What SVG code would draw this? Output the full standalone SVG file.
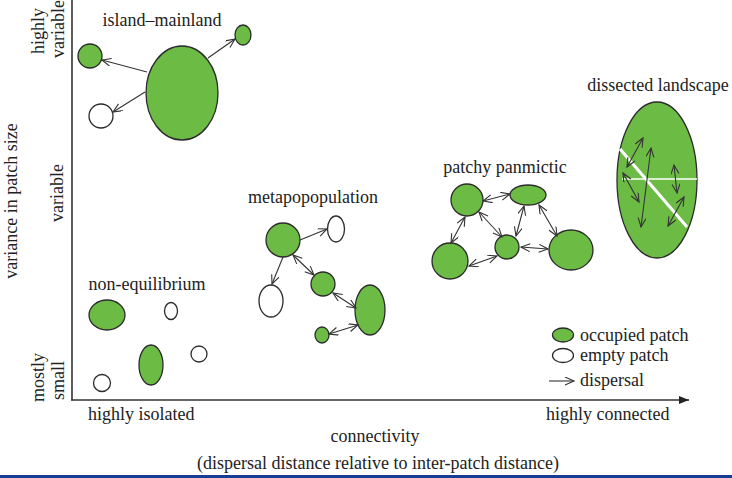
<svg xmlns="http://www.w3.org/2000/svg" width="732" height="478" viewBox="0 0 732 478">
<style>
text{font-family:"Liberation Serif","Times New Roman",serif;font-size:18px;fill:#222}
.occ{fill:#6cbb45;stroke:#2b2b2b;stroke-width:1.3}
.emp{fill:#fff;stroke:#2b2b2b;stroke-width:1.3}
.d{stroke:#333;stroke-width:1.1;fill:none;marker-end:url(#ah)}
.dd{stroke:#333;stroke-width:1.1;fill:none;marker-end:url(#ah);marker-start:url(#ah)}
.ax{stroke:#333;stroke-width:1.6;fill:none}
</style>
<defs>
<marker id="ah" markerUnits="userSpaceOnUse" markerWidth="12" markerHeight="10" refX="10" refY="4" orient="auto-start-reverse">
<path d="M1,0 L10,4 L1,8" fill="none" stroke="#333" stroke-width="1.1"/>
</marker>
<marker id="axh" markerUnits="userSpaceOnUse" markerWidth="12" markerHeight="10" refX="10" refY="4" orient="auto">
<path d="M0,0 L10,4 L0,8 Z" fill="#222"/>
</marker>
</defs>
<rect width="732" height="478" fill="#fff"/>
<rect x="0" y="475" width="732" height="3" fill="#183c94"/>

<g id="axes">
<line class="ax" x1="72" y1="0" x2="72" y2="400.5"/>
<line class="ax" x1="71.2" y1="400" x2="689" y2="400" marker-end="url(#axh)"/>
<text transform="rotate(-90 44 54)" x="44" y="54" font-size="17.5">highly</text>
<text transform="rotate(-90 64 58)" x="64" y="58" font-size="17.5">variable</text>
<text transform="rotate(-90 63 222)" x="63" y="222">variable</text>
<text transform="rotate(-90 44 402)" x="44" y="402">mostly</text>
<text transform="rotate(-90 64 400)" x="64" y="400">small</text>
<text transform="rotate(-90 17 201)" x="17" y="201" text-anchor="middle">variance in patch size</text>
<text x="88" y="420">highly isolated</text>
<text x="546" y="420">highly connected</text>
<text x="375" y="442" text-anchor="middle">connectivity</text>
<text x="378" y="469" text-anchor="middle">(dispersal distance relative to inter-patch distance)</text>
</g>

<g id="island-mainland">
<text x="162" y="26" text-anchor="middle">island–mainland</text>
<ellipse class="occ" cx="182" cy="93" rx="36" ry="47"/>
<circle class="occ" cx="90" cy="56" r="12"/>
<circle class="emp" cx="101" cy="116" r="12"/>
<ellipse class="occ" cx="243" cy="35" rx="8" ry="10"/>
</g>

<g id="metapopulation">
<text x="313" y="203" text-anchor="middle">metapopopulation</text>
<circle class="occ" cx="283" cy="240" r="17"/>
<ellipse class="emp" cx="336" cy="229" rx="8.5" ry="13"/>
<ellipse class="emp" cx="271" cy="301" rx="12" ry="16"/>
<circle class="occ" cx="323" cy="284" r="12"/>
<ellipse class="occ" cx="370" cy="310" rx="15" ry="25"/>
<ellipse class="occ" cx="322" cy="335" rx="7" ry="8"/>
</g>

<g id="patchy-panmictic">
<text x="505" y="173" text-anchor="middle">patchy panmictic</text>
<circle class="occ" cx="467" cy="200" r="16"/>
<ellipse class="occ" cx="528" cy="195" rx="18" ry="10"/>
<circle class="occ" cx="450" cy="261" r="18"/>
<circle class="occ" cx="507" cy="247" r="12"/>
<ellipse class="occ" cx="571" cy="250" rx="22" ry="20"/>
</g>

<g id="dissected-landscape">
<text x="658" y="91" text-anchor="middle">dissected landscape</text>
<ellipse class="occ" cx="657" cy="180" rx="40" ry="78"/>
<line x1="620" y1="149" x2="687" y2="227" stroke="#fff" stroke-width="3"/>
<line x1="622" y1="179" x2="697" y2="179" stroke="#fff" stroke-width="1.5"/>
</g>

<g id="non-equilibrium">
<text x="147" y="290" text-anchor="middle">non-equilibrium</text>
<ellipse class="occ" cx="107" cy="315" rx="18" ry="15"/>
<ellipse class="emp" cx="171" cy="311" rx="6.5" ry="8.5"/>
<ellipse class="occ" cx="151" cy="365" rx="12" ry="20"/>
<circle class="emp" cx="199" cy="354" r="8"/>
<circle class="emp" cx="102" cy="383" r="8.5"/>
</g>

<g id="legend">
<ellipse class="occ" cx="563" cy="335" rx="10.5" ry="7"/>
<text x="580" y="341">occupied patch</text>
<ellipse class="emp" cx="563" cy="355.5" rx="10.5" ry="7"/>
<text x="580" y="361">empty patch</text>
<line class="d" x1="549" y1="381" x2="574" y2="381"/>
<text x="580" y="386">dispersal</text>
</g>

<g id="connectors">
<line class="d" x1="147" y1="72" x2="102" y2="60"/>
<line class="d" x1="145" y1="92" x2="113" y2="112"/>
<line class="d" x1="208" y1="58" x2="235" y2="39"/>

<line class="d" x1="300" y1="240" x2="327" y2="229"/>
<line class="d" x1="283" y1="257" x2="272" y2="284"/>
<line class="dd" x1="293" y1="255" x2="314" y2="275"/>
<line class="dd" x1="333" y1="293" x2="356" y2="308"/>
<line class="dd" x1="358" y1="325" x2="329" y2="334"/>

<line class="dd" x1="483" y1="201" x2="510" y2="194"/>
<line class="dd" x1="465" y1="217" x2="451" y2="243"/>
<line class="dd" x1="479" y1="212" x2="502" y2="237"/>
<line class="dd" x1="524" y1="206" x2="516" y2="236"/>
<line class="dd" x1="539" y1="205" x2="557" y2="236"/>
<line class="dd" x1="469" y1="266" x2="497" y2="256"/>
<line class="dd" x1="521" y1="247" x2="548" y2="249"/>

<line class="dd" x1="627" y1="167" x2="643" y2="138"/>
<line class="dd" x1="651" y1="148" x2="641" y2="227"/>
<line class="dd" x1="623" y1="173" x2="639" y2="202"/>
<line class="dd" x1="674" y1="165" x2="677" y2="193"/>
<line class="dd" x1="684" y1="197" x2="668" y2="226"/>
</g>
</svg>
